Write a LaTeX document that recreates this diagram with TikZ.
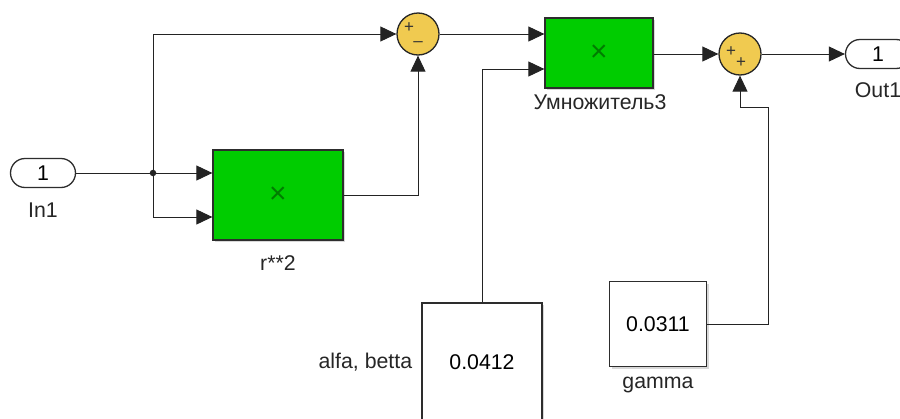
\documentclass[tikz,border=0pt]{standalone}
\usepackage{fontspec}
\setmainfont{Liberation Sans}
\usetikzlibrary{arrows.meta,shapes.misc,shadows,calc}
\definecolor{blkgreen}{RGB}{0,204,0}
\definecolor{xgreen}{RGB}{0,125,0}
\definecolor{sumyel}{RGB}{240,202,80}
\definecolor{edgecol}{RGB}{45,45,45}
\definecolor{wirecol}{RGB}{35,35,35}
\begin{document}
\begin{tikzpicture}[x=1pt,y=-1pt,
  font=\fontsize{21.3}{25}\selectfont,
  wire/.style={draw=wirecol, line width=0.9pt},
  arr/.style={wire, -{Triangle[length=16pt,width=15pt]}},
  port/.style={rounded rectangle, draw=edgecol, line width=1.3pt, fill=white,
    minimum width=65pt, minimum height=29pt, inner sep=0pt},
  prodbox/.style={draw=edgecol, line width=1.3pt, fill=blkgreen,
    drop shadow={shadow xshift=2pt, shadow yshift=-2pt, fill=black!30}},
  constbox/.style={draw=edgecol, line width=1.3pt, fill=white, inner sep=0pt,
    drop shadow={shadow xshift=2pt, shadow yshift=-2pt, fill=black!30}},
  sumnode/.style={circle, draw=black!85, line width=1.3pt, fill=sumyel,
    minimum size=42pt, inner sep=0pt},
  lbl/.style={text=black!85, inner sep=0pt},
  sign/.style={font=\fontsize{17}{18}\selectfont, inner sep=0pt, text=black!80},
  xmark/.style={font=\fontsize{30}{32}\selectfont, inner sep=0pt, text=xgreen},
  dot/.style={circle, fill=wirecol, minimum size=6.5pt, inner sep=0pt},
]
\useasboundingbox (0,0) rectangle (900,418);
\clip (0,0) rectangle (900,418);
\fill[white] (0,0) rectangle (900,418);

% ports
\node[port] (in1) at (43,173) {1};
\node[lbl] (in1l) at (43,210) {In1};
\node[port] (out1) at (878,54) {1};
\node[lbl] (out1l) at (878,90) {Out1};

% product r**2
\node[prodbox, minimum width=130pt, minimum height=90pt] (r2) at (278,195) {};
\node[xmark] (r2x) at (r2.center) {×};
\node[lbl] (r2l) at (278,263) {r**2};

% sum 1
\node[sumnode] (s1) at (418,34) {};
\node[sign] (s1a) at ([xshift=-9pt,yshift=6pt]s1.center) {+};
\node[sign] (s1b) at ([xshift=0pt,yshift=-10pt]s1.center) {–};

% product 3
\node[prodbox, minimum width=108pt, minimum height=70pt] (prod) at (599,53) {};
\node[xmark] (prodx) at (prod.center) {×};
\node[lbl] (prodl) at (600,102) {Умножитель3};

% sum 2
\node[sumnode] (s2) at (740,54) {};
\node[sign] (s2a) at ([xshift=-9pt,yshift=2pt]s2.center) {+};
\node[sign] (s2b) at ([xshift=1pt,yshift=-9pt]s2.center) {+};

% constants
\node[constbox, minimum width=120pt, minimum height=118pt] (alfa) at (482,362) {0.0412};
\node[lbl, anchor=east] (alfal) at ([xshift=-9pt]alfa.west) {alfa, betta};
\node[constbox, minimum width=97pt, minimum height=85pt] (gamma) at (658,324) {0.0311};
\node[lbl] (gammal) at (658,385) {gamma};

% junction and helper points
\node[dot] (j) at (153,173) {};
\coordinate (r2in2) at ([yshift=-22pt]r2.west);
\coordinate (prodin2) at ([yshift=-16pt]prod.west);
\coordinate (g1) at (768,107);

% connectors
\draw[wire] (in1.east) -- (j.center);
\draw[arr] (j.center) -- (j.center -| r2.west);
\draw[arr] (j.center) |- (r2in2);
\draw[arr] (j.center) |- (s1.west);
\draw[arr] (r2.east) -| (s1.south);
\draw[arr] (s1.east) -- (s1.east -| prod.west);
\draw[arr] (alfa.north) |- (prodin2);
\draw[arr] (prod.east |- s2.west) -- (s2.west);
\draw[arr] (gamma.east) -| (g1) -| (s2.south);
\draw[arr] (s2.east) -- (out1.west);
\end{tikzpicture}
\end{document}
